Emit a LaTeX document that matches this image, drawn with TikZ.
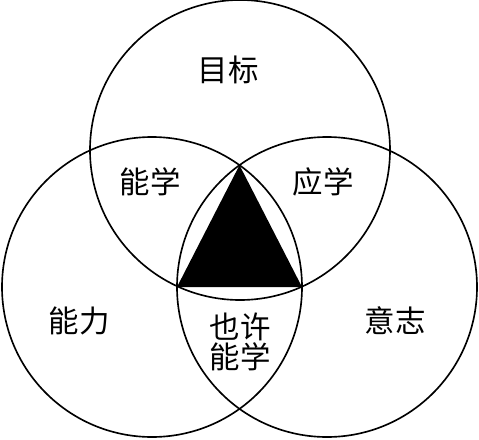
\documentclass[tikz,border=0pt]{standalone}
\usepackage{fontspec}
\usepackage{tikz}
\usetikzlibrary{calc}
\newfontfamily\cjk{Noto Sans CJK SC}
\tikzset{
  ring/.style  = {draw, line width=1.4pt},
  tag/.style   = {font=\cjk\fontsize{26}{25.5}\selectfont, align=center, inner sep=0pt},
}
\begin{document}
\begin{tikzpicture}[x=0.03cm, y=0.03cm]
\useasboundingbox (0,0) rectangle (479,439);
% ---------------- circle centres ----------------
\coordinate (goal) at (240,289);
\coordinate (abil) at (152,152);
\coordinate (will) at (327,152);
% ---------------- triangle corners ----------------
\coordinate (tA) at (239.5,273.8);
\coordinate (tB) at ($(will)+(-150,0)$);
\coordinate (tC) at ($(abil)+(150,0)$);
\fill[black] (tA) -- (tB) -- (tC) -- cycle;
% ---------------- three circles ----------------
\foreach \c in {goal,abil,will}{
  \draw[ring] (\c) circle (150);}
% ---------------- labels ----------------
\node[tag] (lgoal) at (228,369) {目标};
\node[tag] (lga)   at (150,257) {能学};
\node[tag] (lgw)   at (323,257) {应学};
\node[tag] (labil) at (79,118)  {能力};
\node[tag] (lwill) at (395,118) {意志};
\node[tag] (law)   at (240,97)  {也许\\能学};
\end{tikzpicture}
\end{document}
